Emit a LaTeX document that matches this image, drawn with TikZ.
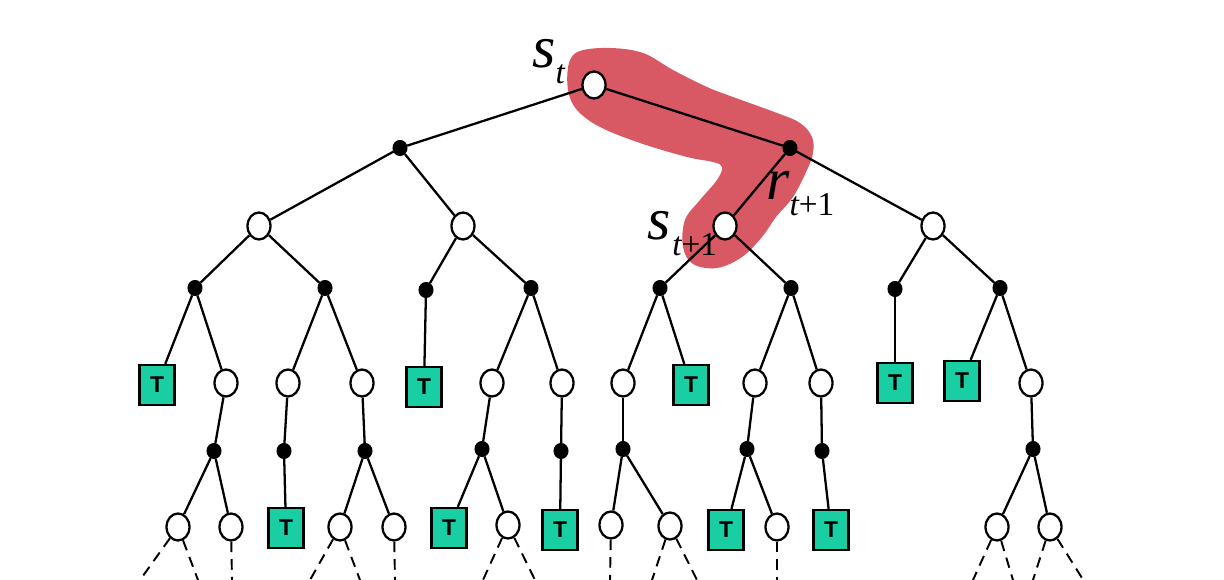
\documentclass[tikz,border=0pt]{standalone}
\usepackage{fontspec}
\setmainfont{Liberation Serif}
\setsansfont{Liberation Sans}
\usepackage{amsmath}
\usetikzlibrary{shapes,positioning}
\definecolor{blobred}{RGB}{216,88,100}
\definecolor{termgreen}{RGB}{26,206,164}
% big italic letter with a lowered subscript
\newcommand{\biglbl}[3]{\itshape #1\kern#3\raisebox{-9pt}{\fontsize{19}{19}\selectfont #2}}

\tikzset{
  stnode/.style={draw,line width=1.3pt,ellipse,fill=white,inner sep=0pt,minimum width=0.46cm,minimum height=0.54cm},
  actnode/.style={draw,line width=0.6pt,ellipse,fill=black,inner sep=0pt,minimum width=0.28cm,minimum height=0.3cm},
  termnode/.style={draw,line width=1.3pt,fill=termgreen,inner sep=0pt,minimum width=0.7cm,minimum height=0.8cm,font=\fontsize{13}{13}\selectfont\sffamily\bfseries},
  lbl/.style={inner sep=0pt,anchor=base west,font=\fontsize{34}{34}\selectfont}
}

\begin{document}
\begin{tikzpicture}[x=0.02cm,y=-0.02cm]
        \useasboundingbox (0,0) rectangle (1224,580);
        % highlighted path
        \fill[blobred] plot[smooth cycle,tension=0.6] coordinates {(580,51) (610,48) (643,53) (673,70) (707,87) (733,97) (777,113) (800,123) (812,137) (813,153) (807,170) (793,197) (776,217) (762,237) (742,257) (717,268) (693,264) (683,247) (685,220) (700,200) (717,180) (722,167) (713,162) (687,157) (640,143) (600,127) (577,110) (568,90) (569,63)};
        \begin{scope}[every node/.style={stnode}]
          \node (st) at (594,85) {};
          \node (s1) at (259,226) {};
          \node (s2) at (463,226) {};
          \node (s3) at (725,226) {};
          \node (s4) at (933,226) {};
          \node (c1) at (226,383) {};
          \node (c2) at (288,383) {};
          \node (c3) at (362,383) {};
          \node (c4) at (492,383) {};
          \node (c5) at (562,383) {};
          \node (c6) at (623,383) {};
          \node (c7) at (755,383) {};
          \node (c8) at (821,383) {};
          \node (c9) at (1031,383) {};
          \node (e1) at (178,527) {};
          \node (e2) at (231,527) {};
          \node (e3) at (340,527) {};
          \node (e4) at (394,527) {};
          \node (e5) at (508,525) {};
          \node (e6) at (611,525) {};
          \node (e7) at (670,526) {};
          \node (e8) at (777,527) {};
          \node (e9) at (997,527) {};
          \node (e10) at (1050,527) {};
        \end{scope}
        \begin{scope}[every node/.style={actnode}]
          \node (a1) at (400,148) {};
          \node (a2) at (790,148) {};
          \node (b1) at (195,288) {};
          \node (b2) at (325,288) {};
          \node (b3) at (426,290) {};
          \node (b4) at (531,288) {};
          \node (b5) at (660,288) {};
          \node (b6) at (791,288) {};
          \node (b7) at (895,289) {};
          \node (b8) at (1000,288) {};
          \node (d1) at (214,451) {};
          \node (d2) at (284,451) {};
          \node (d3) at (365,451) {};
          \node (d4) at (482,449) {};
          \node (d5) at (561,451) {};
          \node (d6) at (623,449) {};
          \node (d7) at (747,449) {};
          \node (d8) at (822,451) {};
          \node (d9) at (1033,449) {};
        \end{scope}
        \begin{scope}[every node/.style={termnode}]
          \node (t1) at (157,385) {T};
          \node (t2) at (424,387) {T};
          \node (t3) at (691,385) {T};
          \node (t4) at (895,383) {T};
          \node (t5) at (962,381) {T};
          \node (t6) at (286,528) {T};
          \node (t7) at (449,528) {T};
          \node (t8) at (560,530) {T};
          \node (t9) at (726,530) {T};
          \node (t10) at (831,530) {T};
        \end{scope}
        \begin{scope}[every node/.style={lbl}]
          \node (lst) at (532,68) {\biglbl{s}{t}{0pt}};
          \node (lst1) at (647,240) {\biglbl{s}{t\upshape +1}{1pt}};
          \node (lrt1) at (766,200) {\biglbl{r}{t\upshape +1}{0pt}};
        \end{scope}
        \begin{scope}[every edge/.style={draw=black,line width=1.3pt}]
          \path (st) edge (a1);
          \path (st) edge (a2);
          \path (a1) edge (s1);
          \path (a1) edge (s2);
          \path (a2) edge (s3);
          \path (a2) edge (s4);
          \path (s1) edge (b1);
          \path (s1) edge (b2);
          \path (s2) edge (b3);
          \path (s2) edge (b4);
          \path (s3) edge (b5);
          \path (s3) edge (b6);
          \path (s4) edge (b7);
          \path (s4) edge (b8);
          \path (b1) edge (t1);
          \path (b1) edge (c1);
          \path (b2) edge (c2);
          \path (b2) edge (c3);
          \path (b3) edge (t2);
          \path (b4) edge (c4);
          \path (b4) edge (c5);
          \path (b5) edge (c6);
          \path (b5) edge (t3);
          \path (b6) edge (c7);
          \path (b6) edge (c8);
          \path (b7) edge (t4);
          \path (b8) edge (t5);
          \path (b8) edge (c9);
          \path (c1) edge (d1);
          \path (c2) edge (d2);
          \path (c3) edge (d3);
          \path (c4) edge (d4);
          \path (c5) edge (d5);
          \path (c6) edge (d6);
          \path (c7) edge (d7);
          \path (c8) edge (d8);
          \path (c9) edge (d9);
          \path (d1) edge (e1);
          \path (d1) edge (e2);
          \path (d2) edge (t6);
          \path (d3) edge (e3);
          \path (d3) edge (e4);
          \path (d4) edge (t7);
          \path (d4) edge (e5);
          \path (d5) edge (t8);
          \path (d6) edge (e6);
          \path (d6) edge (e7);
          \path (d7) edge (t9);
          \path (d7) edge (e8);
          \path (d8) edge (t10);
          \path (d9) edge (e9);
          \path (d9) edge (e10);
        \end{scope}
        % loose ends below the last row
        \coordinate (f1) at (140,580);
        \coordinate (f2) at (198,580);
        \coordinate (f3) at (232,580);
        \coordinate (f4) at (310,580);
        \coordinate (f5) at (360,580);
        \coordinate (f6) at (395,580);
        \coordinate (f7) at (483,580);
        \coordinate (f8) at (535,580);
        \coordinate (f9) at (610,580);
        \coordinate (f10) at (652,580);
        \coordinate (f11) at (697,580);
        \coordinate (f12) at (777,580);
        \coordinate (f13) at (973,580);
        \coordinate (f14) at (1013,580);
        \coordinate (f15) at (1033,580);
        \coordinate (f16) at (1082,578);
        \begin{scope}[every edge/.style={draw=black,line width=1.1pt,dash pattern=on 6pt off 4pt}]
          \path (e1) edge (f1);
          \path (e1) edge (f2);
          \path (e2) edge (f3);
          \path (e3) edge (f4);
          \path (e3) edge (f5);
          \path (e4) edge (f6);
          \path (e5) edge (f7);
          \path (e5) edge (f8);
          \path (e6) edge (f9);
          \path (e7) edge (f10);
          \path (e7) edge (f11);
          \path (e8) edge (f12);
          \path (e9) edge (f13);
          \path (e9) edge (f14);
          \path (e10) edge (f15);
          \path (e10) edge (f16);
        \end{scope}
      \end{tikzpicture}
\end{document}
